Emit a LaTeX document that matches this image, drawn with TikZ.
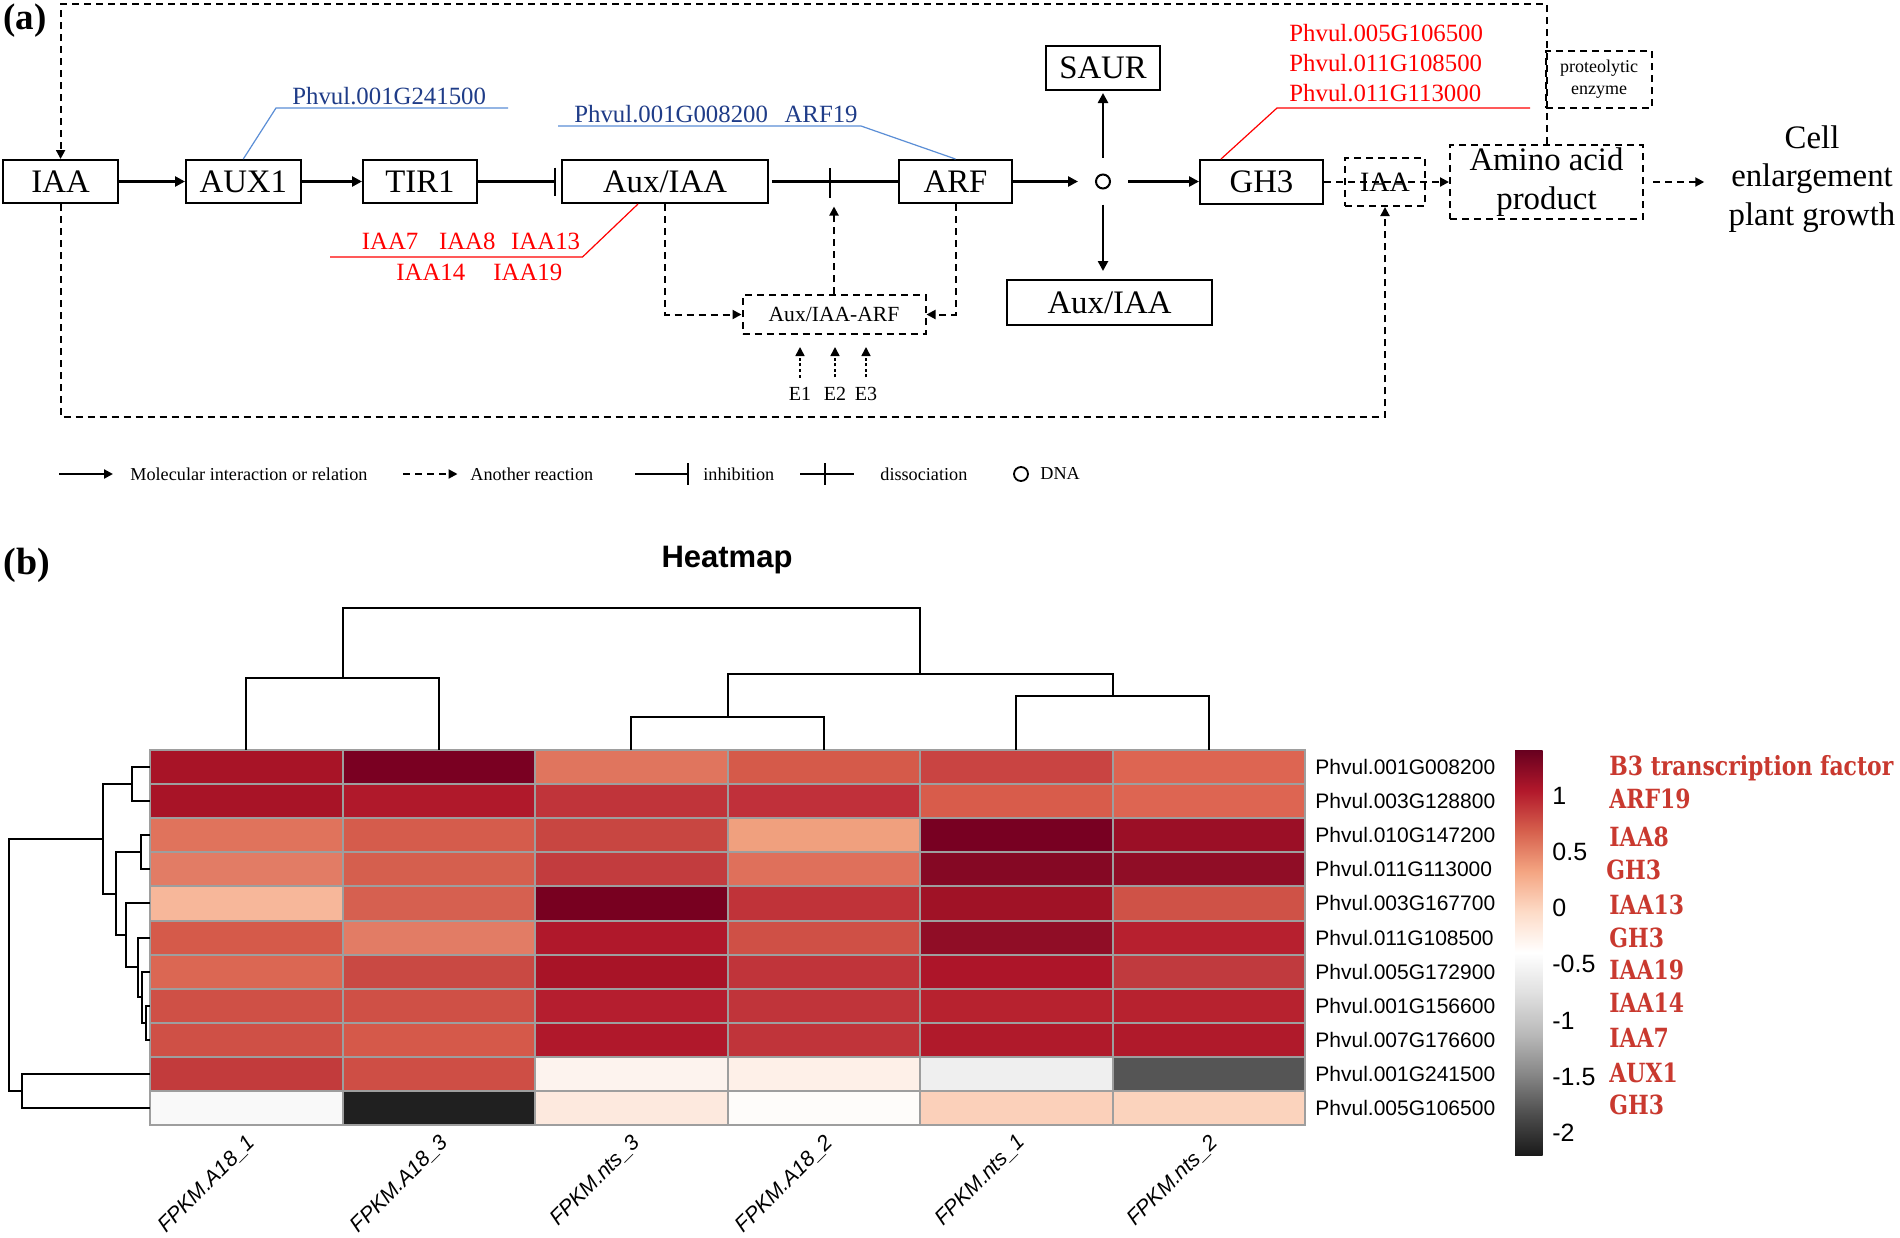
\documentclass[tikz,border=0pt]{standalone}
\usepackage{fontspec}
\setmainfont{Liberation Serif}
\newfontfamily\hsans{Liberation Sans}
\newfontfamily\slabfont[FakeStretch=0.83]{DejaVu Serif}
\usetikzlibrary{arrows.meta}
\definecolor{genered}{HTML}{FF0000}
\definecolor{geneblue}{HTML}{1F3C88}
\definecolor{lineblue}{HTML}{5B8ED6}
\definecolor{annred}{HTML}{C9392F}
\definecolor{gridgray}{HTML}{9E9E9E}
\definecolor{rgA}{HTML}{67001F}
\definecolor{rgB}{HTML}{B2182B}
\definecolor{rgC}{HTML}{D6604D}
\definecolor{rgD}{HTML}{F4A582}
\definecolor{rgE}{HTML}{FDDBC7}
\definecolor{rgF}{HTML}{FFFFFF}
\definecolor{rgG}{HTML}{E0E0E0}
\definecolor{rgH}{HTML}{BABABA}
\definecolor{rgI}{HTML}{878787}
\definecolor{rgJ}{HTML}{4D4D4D}
\definecolor{rgK}{HTML}{1A1A1A}
\pgfdeclareverticalshading{rdgy}{100bp}{color(0bp)=(rgK); color(25bp)=(rgK); color(30bp)=(rgJ); color(35bp)=(rgI); color(40bp)=(rgH); color(45bp)=(rgG); color(50bp)=(rgF); color(55bp)=(rgE); color(60bp)=(rgD); color(65bp)=(rgC); color(70bp)=(rgB); color(75bp)=(rgA); color(100bp)=(rgA)}
\newcommand{\fbig}{\fontsize{16.4}{19.25}\selectfont}
\newcommand{\fgene}{\fontsize{12.4}{14}\selectfont}
\newcommand{\hmrow}[7]{%
  \foreach \cc [count=\ci from 0] in {#2,#3,#4,#5,#6,#7}{%
    \edef\tmpdef{\noexpand\definecolor{hmc}{HTML}{\cc}}\tmpdef
    \filldraw[fill=hmc, draw=gridgray, line width=1pt] ({150+192.5*\ci},{750+34.1*#1}) rectangle ++(192.5,34.1);
  }}
\begin{document}
\begin{tikzpicture}[x=0.5pt,y=-0.5pt,
  box/.style={draw, line width=1pt, inner sep=0pt, font=\fbig},
  dbox/.style={draw, line width=1pt, dash pattern=on 3.5pt off 2.5pt, inner sep=0pt},
  arr/.style={line width=1.3pt, -{Triangle[length=5pt,width=5pt]}},
  dsh/.style={line width=1pt, dash pattern=on 3.5pt off 2.5pt},
  dtip/.style={-{Triangle[length=4.5pt,width=4.5pt]}},
  gene/.style={inner sep=0pt, font=\fgene},
  blueline/.style={draw=lineblue, line width=0.6pt},
  redline/.style={draw=genered, line width=0.6pt},
  leg/.style={inner sep=0pt, anchor=west, font=\fontsize{9.1}{11}\selectfont},
  dend/.style={line width=1pt},
  rowlab/.style={inner sep=0pt, anchor=west, font=\hsans\fontsize{10.5}{12}\selectfont},
  collab/.style={inner sep=0pt, anchor=east, rotate=45, font=\hsans\itshape\fontsize{10.7}{12}\selectfont},
  tick/.style={inner sep=0pt, anchor=west, font=\hsans\fontsize{12.5}{14}\selectfont},
  ann/.style={inner sep=0pt, anchor=west, text=annred, font=\slabfont\bfseries\fontsize{13.2}{15}\selectfont}]
\fill[white] (0,0) rectangle (1900,1237);
\useasboundingbox (0,0) rectangle (1900,1237);

% ---------------- (a) ----------------
\node[inner sep=0pt, font=\bfseries\fontsize{18.5}{20}\selectfont] (pa) at (25,21) {(a)};

\node[box, minimum width=57.3pt, minimum height=21.5pt] (iaa) at (60.6,181.5) {IAA};
\node[box, minimum width=57.3pt, minimum height=21.5pt] (aux1) at (243.3,181.5) {AUX1};
\node[box, minimum width=57pt, minimum height=21.5pt] (tir1) at (420,181.5) {TIR1};
\node[box, minimum width=102.75pt, minimum height=21.5pt] (auxiaa) at (665,181.5) {Aux/IAA};
\node[box, minimum width=56.5pt, minimum height=21.5pt] (arf) at (955.5,181.5) {ARF};
\node[box, minimum width=57.25pt, minimum height=22pt] (saur) at (1103,68) {SAUR};
\node[circle, draw, line width=1pt, minimum size=7pt, inner sep=0pt] (dna) at (1103,181.5) {};
\node[box, minimum width=61.5pt, minimum height=22pt] (gh3) at (1261.5,182) {GH3};
\node[box, minimum width=102.5pt, minimum height=22.5pt] (auxiaa2) at (1109.5,302.5) {Aux/IAA};
\node[dbox, minimum width=91.5pt, minimum height=19.5pt, font=\fontsize{10.8}{12}\selectfont] (complex) at (834,314.5) {Aux/IAA-ARF};
\node[dbox, minimum width=40pt, minimum height=24pt, font=\fontsize{14}{16}\selectfont] (iaa2) at (1385,182) {IAA};
\node[dbox, minimum width=96.5pt, minimum height=37pt, align=center, font=\fontsize{16.4}{19.5}\selectfont] (amino) at (1546.5,182) {Amino acid\\product};
\node[dbox, minimum width=53pt, minimum height=28.5pt, align=center, font=\fontsize{9}{11}\selectfont] (prot) at (1599,79.5) {proteolytic\\enzyme};
\node[inner sep=0pt, align=center, font=\fbig] (cell) at (1812,179) {Cell\\enlargement\\plant growth};

% solid connectors
\draw[arr] (iaa.east) -- (aux1.west);
\draw[arr] (aux1.east) -- (tir1.west);
\draw[line width=1.3pt, -{Bar[width=14pt]}, shorten >=2.5pt] (tir1.east) -- (auxiaa.west);
\draw[line width=1.3pt] ([xshift=1.5pt]auxiaa.east) -- (arf.west);
\coordinate (diss) at (830,181.5);
\draw[line width=1.3pt] (830,168) -- (830,198);
\draw[arr, shorten >=8.5pt] (arf.east) -- (arf.east -| dna.west);
\draw[arr, shorten <=8.5pt] (dna.east) -- (dna.east -| gh3.west);
\draw[arr, shorten <=8pt, shorten >=1pt] (dna.north) -- (saur.south);
\draw[arr, shorten <=7.5pt, shorten >=4pt] (dna.south) -- (dna.south |- auxiaa2.north);

% dashed connectors
\draw[dsh, dtip] (auxiaa.south) |- (complex.west);
\draw[dsh, dtip] (arf.south) |- (complex.east);
\draw[dsh, dtip, shorten >=12.5pt] (complex.north) -- (complex.north |- diss);
\coordinate (tr) at (1546.5,4);
\coordinate (tl) at (60.6,4);
\draw[dsh, dtip] (amino.north) -- (tr) -- (tl) -- (iaa.north);
\coordinate (bl) at (60.6,417);
\coordinate (br) at (1385,417);
\draw[dsh, dtip] (iaa.south) -- (bl) -- (br) -- (iaa2.south);
\draw[dsh, dtip] (gh3.east) -- (amino.west);
\draw[dsh, dtip, shorten <=4.5pt, shorten >=12pt] (amino.east) -- (amino.east -| cell.west);

% E1-E3
\node[inner sep=0pt, font=\fontsize{10}{12}\selectfont] (e1) at (800,393.5) {E1};
\node[inner sep=0pt, font=\fontsize{10}{12}\selectfont] (e2) at (835,393.5) {E2};
\node[inner sep=0pt, font=\fontsize{10}{12}\selectfont] (e3) at (866,393.5) {E3};
\foreach \e in {e1,e2,e3}{
  \draw[line width=0.8pt, dash pattern=on 1.5pt off 1.3pt, -{Triangle[length=4.5pt,width=4.5pt]}, shorten <=4.5pt, shorten >=6pt] (\e.north) -- (\e.north |- complex.south);
}

% gene labels
\node[gene, text=geneblue, anchor=base west] (lbaux) at (292,104) {Phvul.001G241500};
\coordinate (kaux) at (276,108);
\coordinate (eaux) at (508,108);
\draw[blueline] (aux1.north) -- (kaux) -- (eaux);
\node[gene, text=geneblue, anchor=base west] (lbarf) at (574,122) {Phvul.001G008200\hspace{8.3pt}ARF19};
\coordinate (karf) at (861,126);
\coordinate (earf) at (558,126);
\draw[blueline] (arf.north) -- (karf) -- (earf);

\node[gene, text=genered, anchor=base west] (liaa7) at (361.5,249) {IAA7};
\node[gene, text=genered, anchor=base west] (liaa8) at (438.6,249) {IAA8};
\node[gene, text=genered, anchor=base west] (liaa13) at (510.8,249) {IAA13};
\node[gene, text=genered, anchor=base west] (liaa14) at (396,280) {IAA14};
\node[gene, text=genered, anchor=base west] (liaa19) at (493,280) {IAA19};
\coordinate (kiaa) at (582.5,257);
\coordinate (eiaa) at (330,257);
\draw[redline] ([xshift=-13.5pt]auxiaa.south) -- (kiaa) -- (eiaa);

\node[gene, text=genered, anchor=base west] (lg1) at (1289,41.5) {Phvul.005G106500};
\node[gene, text=genered, anchor=base west] (lg2) at (1289,71.5) {Phvul.011G108500};
\node[gene, text=genered, anchor=base west] (lg3) at (1289,101.5) {Phvul.011G113000};
\coordinate (kgh) at (1277,108);
\coordinate (egh) at (1530,108);
\draw[redline] ([xshift=-20.25pt]gh3.north) -- (kgh) -- (egh);

% legend
\coordinate (la1) at (59,474); \coordinate (la2) at (113,474);
\draw[line width=1.2pt, -{Triangle[length=4.5pt,width=4.5pt]}] (la1) -- (la2);
\node[leg] (lt1) at (130,474) {Molecular interaction or relation};
\coordinate (lb1) at (403,474); \coordinate (lb2) at (457.5,474);
\draw[line width=1pt, dash pattern=on 3.5pt off 2.5pt, -{Triangle[length=4.5pt,width=4.5pt]}] (lb1) -- (lb2);
\node[leg] (lt2) at (470,474) {Another reaction};
\draw[line width=1.2pt] (635,474) -- (688,474);
\draw[line width=1.2pt] (688,463) -- (688,485);
\node[leg] (lt3) at (703,474) {inhibition};
\draw[line width=1.2pt] (800,474) -- (854,474);
\draw[line width=1.2pt] (825,463) -- (825,485);
\node[leg] (lt4) at (880,474) {dissociation};
\node[circle, draw, line width=0.9pt, minimum size=7pt, inner sep=0pt] (ldna) at (1021,474) {};
\node[leg] (lt5) at (1040,474) {DNA};

% ---------------- (b) ----------------
\node[inner sep=0pt, font=\bfseries\fontsize{19}{21}\selectfont] (pb) at (27,565) {(b)};
\node[inner sep=0pt, font=\hsans\bfseries\fontsize{15.5}{18}\selectfont] (title) at (727,560) {Heatmap};

\hmrow{0}{A81427}{7A0022}{E0755E}{D55A4A}{C94442}{DD6552}
\hmrow{1}{A81427}{B0192B}{C0343A}{C0303A}{D85C4B}{DD6552}
\hmrow{2}{E0735C}{D55C4C}{C84641}{F0A07E}{780022}{9B0F26}
\hmrow{3}{E27C65}{D55F4E}{C23C3E}{DF705B}{850824}{900D26}
\hmrow{4}{F7B79A}{D66050}{780020}{C03339}{A01226}{CF5247}
\hmrow{5}{D55A4A}{E27C65}{B0182B}{CF5046}{900D26}{B7202F}
\hmrow{6}{DB6753}{C94943}{A81427}{C0343A}{AD1529}{C03A3E}
\hmrow{7}{CF5046}{CF5046}{B51E2F}{C0343A}{B7222F}{B7222F}
\hmrow{8}{CF5046}{D5594A}{B0182B}{C0343A}{B01A2B}{B01A2B}
\hmrow{9}{C23B3C}{CE4E45}{FDF3EE}{FEF0E8}{EFEFEF}{555555}
\hmrow{10}{F9F9F9}{202020}{FDE9DE}{FEFCFA}{FBD0BA}{FBD3BD}

% column dendrogram
\draw[dend] (342.5,678) -- (342.5,608) -- (920,608) -- (920,674);
\draw[dend] (246.25,750) -- (246.25,678) -- (438.75,678) -- (438.75,750);
\draw[dend] (727.5,716.7) -- (727.5,674) -- (1112.5,674) -- (1112.5,696);
\draw[dend] (631.25,750) -- (631.25,716.7) -- (823.75,716.7) -- (823.75,750);
\draw[dend] (1016.25,750) -- (1016.25,696) -- (1208.75,696) -- (1208.75,750);

% row dendrogram
\draw[dend] (150,767.05) -- (132,767.05) -- (132,801.15) -- (150,801.15);
\draw[dend] (150,835.25) -- (141,835.25) -- (141,869.35) -- (150,869.35);
\draw[dend] (150,1005.75) -- (146,1005.75) -- (146,1039.85) -- (150,1039.85);
\draw[dend] (150,971.65) -- (142.4,971.65) -- (142.4,1022.8) -- (146,1022.8);
\draw[dend] (150,937.55) -- (138,937.55) -- (138,997.2) -- (142.4,997.2);
\draw[dend] (150,903.45) -- (125.5,903.45) -- (125.5,967.4) -- (138,967.4);
\draw[dend] (141,852.3) -- (116,852.3) -- (116,935.4) -- (125.5,935.4);
\draw[dend] (132,784.1) -- (103,784.1) -- (103,893.85) -- (116,893.85);
\draw[dend] (150,1073.95) -- (22.4,1073.95) -- (22.4,1108.05) -- (150,1108.05);
\draw[dend] (103,839) -- (8.5,839) -- (8.5,1091) -- (22.4,1091);

% row labels
\foreach \lab [count=\ri from 0] in {Phvul.001G008200,Phvul.003G128800,Phvul.010G147200,Phvul.011G113000,Phvul.003G167700,Phvul.011G108500,Phvul.005G172900,Phvul.001G156600,Phvul.007G176600,Phvul.001G241500,Phvul.005G106500}{
  \node[rowlab] (row\ri) at (1315,{750+34.1*(\ri+0.5)}) {\lab};
}
% column labels
\foreach \lab [count=\ci from 0] in {FPKM.A18\_1,FPKM.A18\_3,FPKM.nts\_3,FPKM.A18\_2,FPKM.nts\_1,FPKM.nts\_2}{
  \node[collab] (col\ci) at ({246.25+192.5*\ci+6},1139) {\lab};
}

% colour bar
\shade[shading=rdgy] (1515,750) rectangle (1542.5,1155);
\node[tick] (t1) at (1552,795.6) {1};
\node[tick] (t2) at (1552,851.8) {0.5};
\node[tick] (t3) at (1552,908) {0};
\node[tick] (t4) at (1552,964.2) {-0.5};
\node[tick] (t5) at (1552,1020.4) {-1};
\node[tick] (t6) at (1552,1076.6) {-1.5};
\node[tick] (t7) at (1552,1132.8) {-2};

% annotations
\node[ann] (a0) at (1609,768) {B3 transcription factor};
\node[ann] (a1) at (1609,799) {ARF19};
\node[ann] (a2) at (1609,837) {IAA8};
\node[ann] (a3) at (1606,870) {GH3};
\node[ann] (a4) at (1609,905) {IAA13};
\node[ann] (a5) at (1609,938) {GH3};
\node[ann] (a6) at (1609,970) {IAA19};
\node[ann] (a7) at (1609,1003) {IAA14};
\node[ann] (a8) at (1609,1038) {IAA7};
\node[ann] (a9) at (1609,1073) {AUX1};
\node[ann] (a10) at (1609,1105) {GH3};
\end{tikzpicture}
\end{document}
